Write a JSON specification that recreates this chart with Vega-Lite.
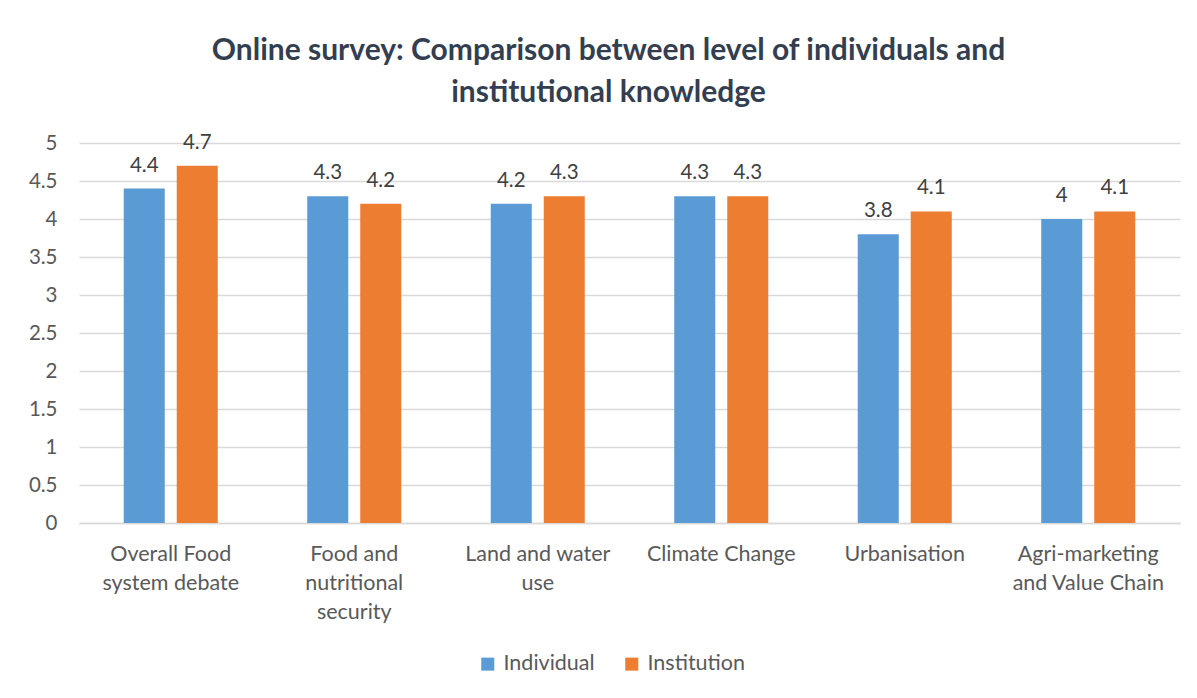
{
  "$schema": "https://vega.github.io/schema/vega-lite/v6.json",
  "width": 1101,
  "height": 380,
  "autosize": {"type": "none"},
  "padding": {"left": 79, "top": 143, "right": 17, "bottom": 175},
  "background": "white",
  "title": {
    "text": ["Online survey: Comparison between level of individuals and", "institutional knowledge"],
    "font": "Lato",
    "fontSize": 30,
    "fontWeight": "bold",
    "color": "#333F50",
    "lineHeight": 42,
    "anchor": "middle",
    "dx": -21,
    "offset": 25
  },
  "data": {
    "values": [
      {"topic": "Overall Food system debate", "group": "Individual", "score": 4.4},
      {"topic": "Overall Food system debate", "group": "Institution", "score": 4.7},
      {"topic": "Food and nutritional security", "group": "Individual", "score": 4.3},
      {"topic": "Food and nutritional security", "group": "Institution", "score": 4.2},
      {"topic": "Land and water use", "group": "Individual", "score": 4.2},
      {"topic": "Land and water use", "group": "Institution", "score": 4.3},
      {"topic": "Climate Change", "group": "Individual", "score": 4.3},
      {"topic": "Climate Change", "group": "Institution", "score": 4.3},
      {"topic": "Urbanisation", "group": "Individual", "score": 3.8},
      {"topic": "Urbanisation", "group": "Institution", "score": 4.1},
      {"topic": "Agri-marketing and Value Chain", "group": "Individual", "score": 4.0},
      {"topic": "Agri-marketing and Value Chain", "group": "Institution", "score": 4.1}
    ]
  },
  "encoding": {
    "x": {
      "field": "topic",
      "type": "nominal",
      "sort": null,
      "scale": {"paddingInner": 0, "paddingOuter": 0},
      "axis": {
        "title": null,
        "labelAngle": 0,
        "ticks": false,
        "domainColor": "#D9D9D9",
        "domainWidth": 1.5,
        "labelFont": "Lato",
        "labelFontSize": 21.5,
        "labelColor": "#595959",
        "labelLineHeight": 29,
        "labelPadding": 20,
        "labelExpr": "datum.label == 'Overall Food system debate' ? ['Overall Food', 'system debate'] : datum.label == 'Food and nutritional security' ? ['Food and', 'nutritional', 'security'] : datum.label == 'Land and water use' ? ['Land and water', 'use'] : datum.label == 'Agri-marketing and Value Chain' ? ['Agri-marketing', 'and Value Chain'] : datum.label"
      }
    },
    "xOffset": {
      "field": "group",
      "type": "nominal",
      "scale": {"paddingInner": 0.226, "paddingOuter": 0.844}
    },
    "y": {
      "field": "score",
      "type": "quantitative",
      "scale": {"domain": [0, 5]},
      "axis": {
        "title": null,
        "values": [0, 0.5, 1, 1.5, 2, 2.5, 3, 3.5, 4, 4.5, 5],
        "format": "~g",
        "domain": false,
        "ticks": false,
        "grid": true,
        "gridColor": "#D9D9D9",
        "gridWidth": 1.5,
        "labelFont": "Lato",
        "labelFontSize": 20.5,
        "labelColor": "#595959",
        "labelPadding": 22
      }
    }
  },
  "layer": [
    {
      "mark": {"type": "bar"},
      "encoding": {
        "color": {
          "field": "group",
          "type": "nominal",
          "scale": {"domain": ["Individual", "Institution"], "range": ["#5B9BD5", "#ED7D31"]},
          "legend": {
            "title": null,
            "orient": "none",
            "direction": "horizontal",
            "legendX": 398,
            "legendY": 510,
            "symbolType": "square",
            "symbolSize": 169,
            "symbolStrokeWidth": 0,
            "labelFont": "Lato",
            "labelFontSize": 21.5,
            "labelColor": "#595959",
            "labelOffset": 5,
            "columnPadding": 26
          }
        }
      }
    },
    {
      "mark": {"type": "text", "baseline": "bottom", "dy": -13, "font": "Lato", "fontSize": 20.5, "color": "#404040"},
      "encoding": {
        "text": {"field": "score", "type": "quantitative"}
      }
    }
  ],
  "config": {
    "view": {"stroke": null}
  }
}
